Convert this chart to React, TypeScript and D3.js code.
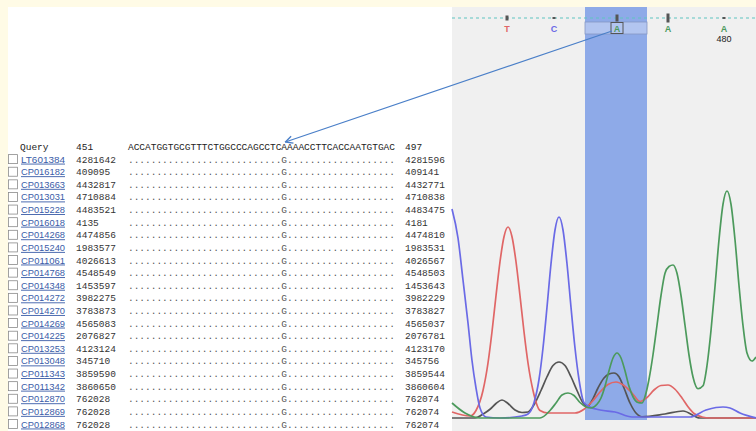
import React from 'react';
import * as d3 from 'd3';

// BLAST alignment block
const accessions = ['LT601384', 'CP016182', 'CP013663', 'CP013031', 'CP015228', 'CP016018', 'CP014268', 'CP015240', 'CP011061', 'CP014768', 'CP014348', 'CP014272', 'CP014270', 'CP014269', 'CP014225', 'CP013253', 'CP013048', 'CP011343', 'CP011342', 'CP012870', 'CP012869', 'CP012868'];
const startPos = [4281642, 409095, 4432817, 4710884, 4483521, 4135, 4474856, 1983577, 4026613, 4548549, 1453597, 3982275, 3783873, 4565083, 2076827, 4123124, 345710, 3859590, 3860650, 762028, 762028, 762028];
const endPos = [4281596, 409141, 4432771, 4710838, 4483475, 4181, 4474810, 1983531, 4026567, 4548503, 1453643, 3982229, 3783827, 4565037, 2076781, 4123170, 345756, 3859544, 3860604, 762074, 762074, 762074];
const querySeq = 'ACCATGGTGCGTTTCTGGCCCAGCCTCAAAACCTTCACCAATGTGAC';
const queryStart = 451;
const queryEnd = 497;
const snpPos = 478;
const snpBase = 'G';

// chromatogram (scan index, signal)
const baseCalls = ['T', 'C', 'A', 'A', 'A'];
const baseScan = [55, 102, 165, 216, 272];
const baseQual = [4, 1, 6, 8, 1];
const highlightScan = [133, 195];

const traceA = [[0, 60], [13, 20], [28, 0], [88, 0], [98, 30], [104, 60], [110, 92], [116, 100], [122, 90], [128, 62], [134, 44], [139, 40], [145, 55], [149, 80], [153, 127], [157, 189], [161, 240], [165, 260], [169, 240], [173, 189], [177, 127], [181, 85], [186, 62], [190, 60], [194, 100], [197, 155], [201, 253], [205, 371], [209, 490], [213, 579], [217, 606], [221, 612], [225, 579], [229, 490], [233, 371], [237, 252], [241, 164], [246, 117], [251, 129], [255, 210], [259, 350], [263, 526], [267, 713], [271, 855], [275, 908], [279, 855], [283, 713], [287, 530], [291, 370], [295, 260], [300, 228], [304, 244]];
const traceC = [[0, 836], [6, 720], [11, 552], [16, 380], [20, 230], [24, 120], [28, 40], [34, 4], [48, 0], [70, 8], [76, 16], [82, 61], [87, 154], [91, 280], [95, 443], [99, 617], [103, 752], [107, 804], [111, 752], [115, 617], [119, 443], [123, 280], [127, 154], [132, 61], [138, 44], [148, 32], [163, 24], [180, 4], [238, 4], [254, 32], [264, 42], [271, 44], [278, 40], [288, 20], [304, 0]];
const traceG = [[0, 0], [23, 0], [32, 18], [38, 35], [44, 58], [50, 72], [56, 58], [63, 32], [70, 22], [76, 24], [83, 60], [89, 110], [95, 165], [101, 210], [107, 224], [113, 210], [119, 165], [125, 110], [131, 60], [135, 45], [140, 70], [146, 120], [152, 160], [157, 176], [162, 180], [167, 165], [172, 120], [178, 60], [184, 20], [190, 5], [213, 16], [231, 28], [248, 0], [304, 0]];
const traceT = [[0, 24], [18, 8], [24, 30], [31, 110], [36, 220], [40, 345], [44, 489], [48, 625], [52, 725], [56, 764], [60, 725], [64, 625], [68, 489], [72, 345], [76, 220], [81, 110], [88, 30], [96, 20], [123, 20], [132, 35], [140, 65], [148, 104], [156, 134], [164, 144], [172, 130], [180, 100], [188, 66], [195, 82], [202, 112], [209, 130], [216, 132], [223, 115], [230, 80], [236, 45], [242, 18], [250, 4], [258, 0], [304, 0]];

const baseColor: Record<string, string> = { A: '#4c9a5c', C: '#6a6ae6', G: '#555555', T: '#e06666' };

export default function App() {
  const W = 756, H = 431;
  const panelX = 452;

  const x = d3.scaleLinear().domain([0, 304]).range([panelX, 756]);
  const y = d3.scaleLinear().domain([0, 1000]).range([418, 168]);
  const line = d3.line<number[]>().x(d => x(d[0])).y(d => y(d[1])).curve(d3.curveMonotoneX);

  const rows = d3.scalePoint<string>().domain(['Query', ...accessions]).range([146.5, 424]);
  const seqX = d3.scaleBand<number>().domain(d3.range(queryStart, queryEnd + 1)).range([128, 395]);
  const snpIdx = snpPos - queryStart;
  const matchLine = querySeq.split('').map((c, i) => (i === snpIdx ? snpBase : '.')).join('');

  const mono = "'Liberation Mono', 'Courier New', monospace";
  const sans = "'Liberation Sans', Arial, sans-serif";
  const lineY = 18;
  const snpCall = baseScan[2];
  const hx0 = x(highlightScan[0]), hx1 = x(highlightScan[1]);
  const seqW = seqX.range()[1] - seqX.range()[0];

  return (
    <svg width={W} height={H} style={{ position: 'absolute', left: 0, top: 0 }}>
      <defs>
        <marker id="arr" viewBox="0 0 10 10" refX="9" refY="5" markerWidth="7" markerHeight="7" orient="auto">
          <path d="M1,1 L9,5 L1,9" fill="none" stroke="#4a7fc8" strokeWidth={1.5} />
        </marker>
      </defs>
      <rect width={W} height={H} fill="#fffbe6" />
      <rect x={8} y={7} width={panelX - 8} height={H - 7} fill="#ffffff" />
      <rect x={panelX} y={7} width={W - panelX} height={H - 7} fill="#f0f0f0" />

      {/* alignment table */}
      <g fontFamily={mono} fontSize={9.5} fill="#222">
        <text x={20} y={rows('Query')! + 3.5}>Query</text>
        <text x={76} y={rows('Query')! + 3.5}>{queryStart}</text>
        <text x={seqX(queryStart)} y={rows('Query')! + 3.5} textLength={seqW} lengthAdjust="spacing">{querySeq}</text>
        <text x={405} y={rows('Query')! + 3.5}>{queryEnd}</text>
        {accessions.map((acc, i) => {
          const cy = rows(acc)!;
          return (
            <g key={acc}>
              <rect x={8.5} y={cy - 4.5} width={9} height={9} fill="#fff" stroke="#8a8a8a" strokeWidth={0.8} />
              <text x={21} y={cy + 3.5} fontFamily={sans} fontSize={9} fill="#3a5ca8" textLength={44} lengthAdjust="spacingAndGlyphs" textDecoration="underline">{acc}</text>
              <text x={76} y={cy + 3.5} fill="#333">{startPos[i]}</text>
              <text x={seqX(queryStart)} y={cy + 3.5} fill="#555" textLength={seqW} lengthAdjust="spacing">{matchLine}</text>
              <text x={405} y={cy + 3.5} fill="#333">{endPos[i]}</text>
            </g>
          );
        })}
      </g>

      {/* chromatogram */}
      <rect x={hx0} y={7} width={hx1 - hx0} height={y(0) + 2 - 7} fill="#8eaae8" />
      <rect x={hx0} y={22} width={hx1 - hx0} height={12} fill="#b2c5f0" stroke="#8497c4" strokeWidth={0.8} />
      <line x1={panelX} x2={W} y1={lineY} y2={lineY} stroke="#5fc4c0" strokeWidth={1} strokeDasharray="3,3" />
      {baseCalls.map((b, i) => (
        <g key={i}>
          <rect x={x(baseScan[i]) - 1.5} y={lineY - baseQual[i] / 2 - 0.5} width={3} height={baseQual[i] + 1} fill="#555" />
          <text x={x(baseScan[i])} y={31.5} textAnchor="middle" fontFamily={sans} fontWeight="bold" fontSize={9} fill={baseColor[b]}>{b}</text>
        </g>
      ))}
      <rect x={x(snpCall) - 6} y={22.5} width={12} height={11} fill="none" stroke="#555" strokeWidth={1} />
      <text x={x(baseScan[4])} y={42} textAnchor="middle" fontFamily={sans} fontSize={9} fill="#222">480</text>

      <g fill="none" strokeWidth={1.7} strokeLinejoin="round">
        <path d={line(traceG)!} stroke={baseColor.G} />
        <path d={line(traceT)!} stroke={baseColor.T} />
        <path d={line(traceC)!} stroke={baseColor.C} />
        <path d={line(traceA)!} stroke={baseColor.A} />
      </g>

      <line x1={x(snpCall) - 5} y1={31} x2={seqX(snpPos)! + 4} y2={142} stroke="#4a7fc8" strokeWidth={1.3} markerEnd="url(#arr)" />
    </svg>
  );
}
